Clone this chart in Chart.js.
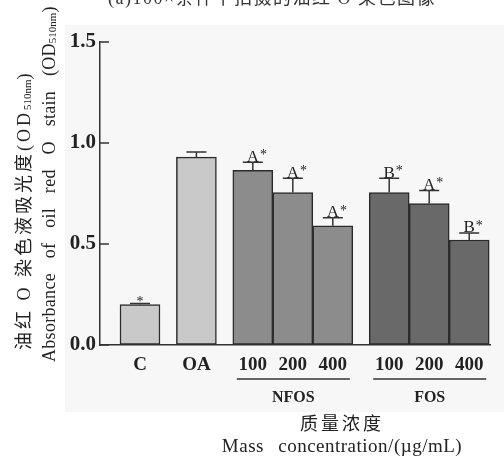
<!DOCTYPE html>
<html>
<head>
<meta charset="utf-8">
<script src="https://cdn.jsdelivr.net/npm/chart.js@4/dist/chart.umd.min.js"></script>
<style>
  body { margin: 0; background: #fff; }
  canvas { display: block; }
</style>
</head>
<body>
<canvas id="canvas" width="504" height="463"></canvas>
<script>
const canvas = document.getElementById('canvas');
const ctx = canvas.getContext('2d');

// data
const categories = ['C', 'OA', '100', '200', '400', '100', '200', '400'];
const groups = ['', '', 'NFOS', 'NFOS', 'NFOS', 'FOS', 'FOS', 'FOS'];
const values = [0.20, 0.93, 0.865, 0.755, 0.59, 0.755, 0.70, 0.52];
const errors = [0.005, 0.025, 0.04, 0.07, 0.04, 0.07, 0.065, 0.035];
const marks = ['*', '', 'A*', 'A*', 'A*', 'B*', 'A*', 'B*'];
const yTicks = [0, 0.5, 1.0, 1.5];

const colors = { '': '#c9c9c9', NFOS: '#8c8c8c', FOS: '#696969' };
const ink = '#222';
const serif = '"Liberation Serif", "Noto Sans CJK SC", serif';
const gapUnits = 0.41;

// bar centres on the linear x scale: one unit per bar, extra gap between groups
const positions = [];
let pos = 1;
categories.forEach((c, i) => {
  if (i > 0) {
    pos += 1;
    if (groups[i] === '' || groups[i] !== groups[i - 1]) pos += gapUnits;
  }
  positions.push(pos);
});

const spaced = (c, letter, word) => {
  if ('letterSpacing' in c) c.letterSpacing = letter;
  if ('wordSpacing' in c) c.wordSpacing = word;
};

// draws text piece by piece, sub = subscript
const drawRun = (c, parts, x, y, letter, word) => {
  parts.forEach((p) => {
    if (p.sub) {
      spaced(c, '0px', '0px');
      c.font = '11px ' + serif;
    } else {
      spaced(c, letter, word);
      c.font = p.font;
    }
    c.fillText(p.t, x, p.sub ? y + 3 : y);
    x += c.measureText(p.t).width;
  });
};

const decorPlugin = {
  id: 'decor',
  beforeDraw(chart) {
    const c = chart.ctx;
    c.save();
    c.fillStyle = '#fff';
    c.fillRect(0, 0, chart.width, chart.height);
    c.fillStyle = '#f7f7f7';
    c.fillRect(65, 25, chart.width - 65, 387);
    c.restore();
  },
  afterDraw(chart) {
    const c = chart.ctx;
    const xs = chart.scales.x;
    const ys = chart.scales.y;
    const meta = chart.getDatasetMeta(0);
    c.save();
    c.strokeStyle = '#333';
    c.fillStyle = ink;
    c.lineWidth = 1.5;

    // inward ticks
    yTicks.forEach((v) => {
      const y = ys.getPixelForValue(v);
      c.beginPath();
      c.moveTo(xs.left, y);
      c.lineTo(xs.left + 9, y);
      c.stroke();
    });

    // error bars + significance marks
    values.forEach((v, i) => {
      const bx = meta.data[i].x;
      const y0 = ys.getPixelForValue(v);
      const y1 = ys.getPixelForValue(v + errors[i]);
      c.beginPath();
      c.moveTo(bx, y0);
      c.lineTo(bx, y1);
      c.moveTo(bx - 10, y1);
      c.lineTo(bx + 10, y1);
      c.stroke();

      const m = marks[i];
      if (!m) return;
      c.textBaseline = 'alphabetic';
      if (m.length === 1) {
        c.font = '14px ' + serif;
        c.textAlign = 'center';
        c.fillText(m, bx, y1 + 2);
      } else {
        c.font = '17px ' + serif;
        c.textAlign = 'center';
        c.fillText(m[0], bx, y1 - 0.5);
        const w = c.measureText(m[0]).width;
        c.font = '14px ' + serif;
        c.textAlign = 'left';
        c.fillText(m[1], bx + w / 2 + 1, y1 - 3);
      }
    });

    // category labels
    c.font = 'bold 19px ' + serif;
    c.textAlign = 'center';
    c.textBaseline = 'middle';
    categories.forEach((lab, i) => {
      c.fillText(lab, meta.data[i].x, 365);
    });

    // group underlines and names
    [...new Set(groups.filter((g) => g))].forEach((g) => {
      const first = groups.indexOf(g);
      const last = groups.lastIndexOf(g);
      const x0 = meta.data[first].x - 16;
      const x1 = meta.data[last].x + 17;
      c.beginPath();
      c.moveTo(x0, 379);
      c.lineTo(x1, 379);
      c.stroke();
      c.font = 'bold 16px ' + serif;
      c.fillText(g, (x0 + x1) / 2, 398);
    });

    // x title
    c.font = '18px ' + serif;
    spaced(c, '3px', '0px');
    c.fillText('质量浓度', 342, 425);
    spaced(c, '0.5px', '9px');
    c.font = '19px ' + serif;
    c.fillText('Mass concentration/(\u00b5g/mL)', 342, 447);

    // cut-off caption at the top
    spaced(c, '1.5px', '0px');
    c.font = '18px ' + serif;
    c.fillStyle = '#333';
    c.fillText('(a)100\u00d7条件下拍摄的油红 O 染色图像', 272, -1);
    c.fillStyle = ink;

    // y titles, rotated
    c.textAlign = 'left';
    c.textBaseline = 'middle';
    c.save();
    c.translate(25, 350);
    c.rotate(-Math.PI / 2);
    drawRun(c, [
      { t: '油红 O 染色液吸光度(OD', font: '18px ' + serif },
      { t: '510nm', sub: true },
      { t: ')', font: '18px ' + serif },
    ], 0, 0, '3px', '0px');
    c.restore();
    c.save();
    c.translate(50, 362);
    c.rotate(-Math.PI / 2);
    drawRun(c, [
      { t: 'Absorbance of oil red O stain (OD', font: '18px ' + serif },
      { t: '510nm', sub: true },
      { t: ')', font: '18px ' + serif },
    ], 0, 0, '0.3px', '10px');
    c.restore();

    c.restore();
  },
};

const myChart = new Chart(ctx, {
  type: 'bar',
  data: {
    datasets: [
      {
        data: values.map((v, i) => ({ x: positions[i], y: v })),
        backgroundColor: groups.map((g) => colors[g]),
        borderColor: '#2b2b2b',
        borderWidth: 1.5,
        borderSkipped: false,
        barThickness: 40,
      },
    ],
  },
  options: {
    responsive: false,
    devicePixelRatio: 1,
    animation: false,
    layout: { padding: { top: 42, right: 14, left: 0, bottom: 0 } },
    plugins: { legend: { display: false }, tooltip: { enabled: false } },
    scales: {
      x: {
        type: 'linear',
        offset: false,
        min: 0,
        max: 9.75,
        ticks: { display: false },
        grid: { display: true, drawOnChartArea: false, drawTicks: false },
        border: { display: true, color: '#333', width: 1.5 },
        afterFit: (scale) => { scale.height = 118; },
      },
      y: {
        min: 0,
        max: 1.5,
        ticks: {
          stepSize: 0.5,
          padding: 4,
          color: ink,
          font: { family: serif, size: 21, weight: 'bold' },
          callback: (v) => v.toFixed(1),
        },
        grid: { display: true, drawOnChartArea: false, drawTicks: false },
        border: { display: true, color: '#333', width: 1.5 },
        afterFit: (scale) => { scale.width = 100; },
      },
    },
  },
  plugins: [decorPlugin],
});
</script>
</body>
</html>
